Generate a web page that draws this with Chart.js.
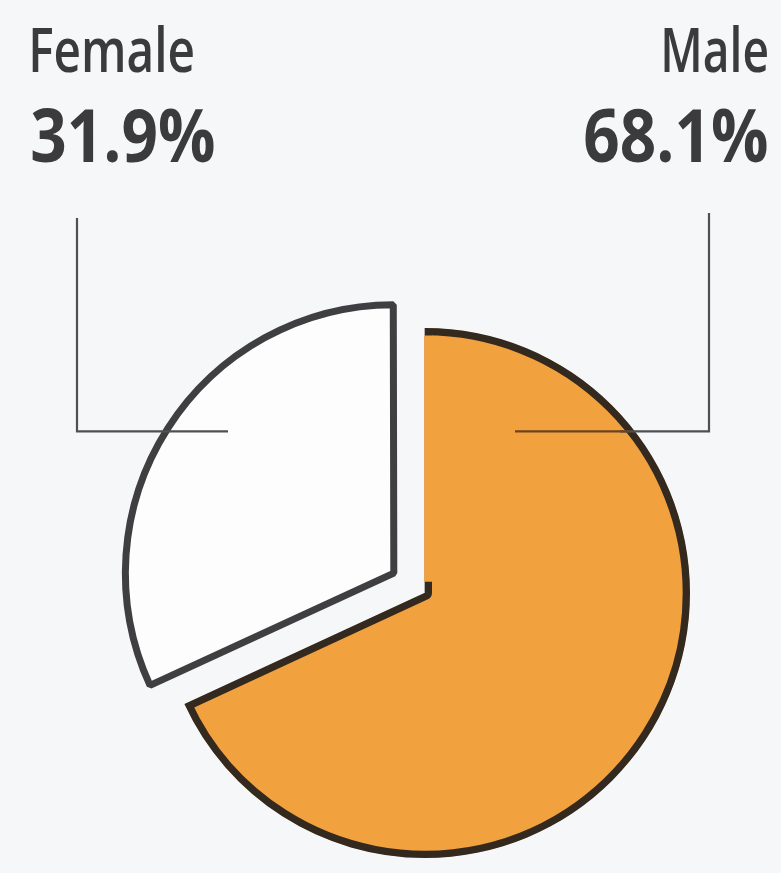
<!DOCTYPE html>
<html>
<head>
<meta charset="utf-8">
<script src="https://cdn.jsdelivr.net/npm/chart.js@4/dist/chart.umd.min.js"></script>
<style>
  html, body { margin: 0; padding: 0; background: #f5f7f8; }
  #wrap { width: 781px; height: 873px; position: relative; }
  canvas { display: block; }
</style>
</head>
<body>
<div id="wrap"><canvas id="c" width="781" height="873"></canvas></div>
<script>
// ---- data ----
const categories = ['Male', 'Female'];
const shares = [68.1, 31.9];
const shareLabels = ['68.1%', '31.9%'];

// ---- helpers ----
function drawFitted(ctx, text, font, inkEdge, baseline, inkWidth, side) {
  ctx.save();
  ctx.font = font;
  ctx.textAlign = 'left';
  ctx.textBaseline = 'alphabetic';
  const m = ctx.measureText(text);
  const abl = m.actualBoundingBoxLeft, abr = m.actualBoundingBoxRight;
  const s = inkWidth / (abl + abr);
  const x = side === 'left' ? inkEdge + abl * s : inkEdge - abr * s;
  ctx.translate(x, baseline);
  ctx.scale(s, 1);
  ctx.fillText(text, 0, 0);
  ctx.restore();
}

const MALE_FILL = '#f2a13f';

const overlayPlugin = {
  id: 'overlay',
  afterDatasetsDraw(chart) {
    const ctx = chart.ctx;
    const male = chart.getDatasetMeta(0).data[0];
    const p = male.getProps(['x', 'y', 'outerRadius', 'startAngle', 'endAngle'], true);
    const bw = 7;
    const a = p.startAngle;
    const dx = Math.cos(a), dy = Math.sin(a);
    const nx = Math.cos(a + Math.PI / 2), ny = Math.sin(a + Math.PI / 2);
    // male slice: no dark outline on its straight vertical edge
    ctx.save();
    ctx.lineCap = 'butt';
    ctx.strokeStyle = MALE_FILL;
    ctx.lineWidth = bw + 1.5;
    const off = (bw + 1.5) / 2 - 0.8;
    const r0 = bw * 1.6, r1 = p.outerRadius - bw - 0.5;
    ctx.beginPath();
    ctx.moveTo(p.x + dx * r0 + nx * off, p.y + dy * r0 + ny * off);
    ctx.lineTo(p.x + dx * r1 + nx * off, p.y + dy * r1 + ny * off);
    ctx.stroke();
    ctx.restore();
  },
  afterDraw(chart) {
    const ctx = chart.ctx;
    const male = chart.getDatasetMeta(0).data[0];
    const cy = male.y, r = male.outerRadius;
    const lineY = cy - 0.61 * r;
    ctx.save();
    ctx.lineWidth = 2.2;
    ctx.lineCap = 'butt';
    // Female leader
    ctx.strokeStyle = '#505052';
    ctx.beginPath();
    ctx.moveTo(77, 218);
    ctx.lineTo(77, lineY);
    ctx.lineTo(228, lineY);
    ctx.stroke();
    // Male leader
    ctx.beginPath();
    ctx.moveTo(709, 213);
    ctx.lineTo(709, lineY);
    ctx.lineTo(620, lineY);
    ctx.stroke();
    ctx.strokeStyle = '#6b4320';
    ctx.beginPath();
    ctx.moveTo(630, lineY);
    ctx.lineTo(515, lineY);
    ctx.stroke();
    ctx.restore();

    ctx.save();
    ctx.fillStyle = '#3b3b3d';
    const nameFont = '600 62px "Open Sans", "DejaVu Sans Condensed", sans-serif';
    const numFont = '700 74px "Open Sans", "DejaVu Sans Condensed", sans-serif';
    // Female (index 1) on the left, Male (index 0) on the right
    drawFitted(ctx, categories[1], nameFont, 32, 72, 161, 'left');
    drawFitted(ctx, shareLabels[1], numFont, 32, 162, 182, 'left');
    drawFitted(ctx, categories[0], nameFont, 767, 72, 103, 'right');
    drawFitted(ctx, shareLabels[0], numFont, 767, 162, 182, 'right');
    ctx.restore();
  }
};

new Chart(document.getElementById('c'), {
  type: 'pie',
  data: {
    labels: categories,
    datasets: [{
      data: shares,
      backgroundColor: [MALE_FILL, '#fdfdfd'],
      borderColor: ['#33291f', '#3f3f41'],
      borderWidth: [7, 7],
      borderAlign: ['inner', 'center'],
      offset: [0, 148],
      clip: false
    }]
  },
  options: {
    responsive: false,
    animation: false,
    radius: 265,
    layout: { padding: { left: 70, right: 1, top: 316, bottom: 3 } },
    plugins: { legend: { display: false }, tooltip: { enabled: false } },
    events: []
  },
  plugins: [overlayPlugin]
});
</script>
</body>
</html>
